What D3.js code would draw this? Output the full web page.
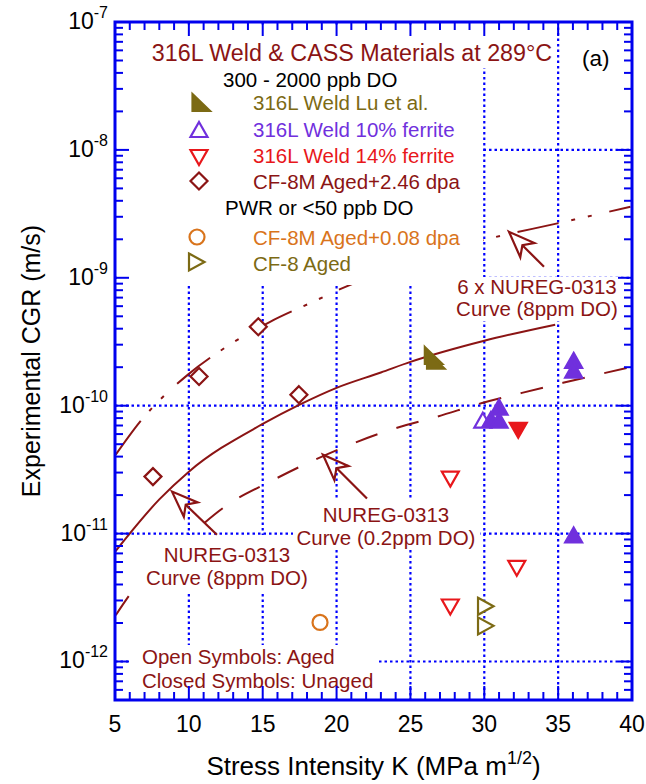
<!DOCTYPE html>
<html>
<head>
<meta charset="utf-8">
<script src="https://cdn.jsdelivr.net/npm/d3@7"></script>
<style>
  html, body { margin: 0; padding: 0; background: #fff; }
  text { font-family: "Liberation Sans", Arial, Helvetica, sans-serif; }
</style>
</head>
<body>
<div id="chart"></div>
<script>
// Curves
const nuregK = [5, 8, 10, 15, 17.5, 20, 23, 25, 30, 34.8];
const nuregV = [7.2e-12, 1.85e-11, 3.05e-11, 7.2e-11, 1.02e-10, 1.38e-10, 1.82e-10, 2.2e-10, 3.22e-10, 4.3e-10];
const lowDoK = [5.05, 6, 10.3, 12.65, 15.5, 18.4, 21.25, 24.1, 26.8, 29.85, 32.55, 35.33, 39.7];
const lowDoV = [2.3e-12, 3.33e-12, 1.02e-11, 1.69e-11, 2.55e-11, 3.72e-11, 5.14e-11, 6.73e-11, 8.2e-11, 1.05e-10, 1.26e-10, 1.51e-10, 1.98e-10];
const sixK = [5.05, 6.7, 9.94, 12.24, 15.5, 18.4, 20.6, 25, 30, 34.8, 39.9];
const sixV = [4.14e-11, 7.5e-11, 1.75e-10, 2.74e-10, 4.53e-10, 6.49e-10, 8.5e-10, 1.33e-9, 1.98e-9, 2.64e-9, 3.59e-9];

// Data points
const luK = [26.55, 26.7];
const luV = [2.45e-10, 2.25e-10];
const f10OpenK = [29.9];
const f10OpenV = [7.5e-11];
const f10FillK = [30.45, 31.0, 31.0, 36.05, 36.05, 36.05];
const f10FillV = [7.6e-11, 9.5e-11, 7.5e-11, 2.2e-10, 1.85e-10, 9.5e-12];
const f14OpenK = [27.7, 32.2, 27.7];
const f14OpenV = [2.74e-11, 5.5e-12, 2.74e-12];
const f14FillK = [32.3];
const f14FillV = [6.6e-11];
const cf8mHighK = [7.57, 10.69, 14.7, 17.45];
const cf8mHighV = [2.79e-11, 1.69e-10, 4.14e-10, 1.22e-10];
const cf8mLowK = [18.88];
const cf8mLowV = [2.02e-12];
const cf8K = [30.05, 30.05];
const cf8V = [2.7e-12, 1.9e-12];

// Arrows: [tailK, tailV, tipK, tipV]
const arrows = [
  [34.04, 1.22e-9, 31.67, 2.29e-9],
  [22.06, 1.88e-11, 19.08, 4.14e-11],
  [11.9, 9.8e-12, 8.86, 2.13e-11]
];

const xTicks = [5, 10, 15, 20, 25, 30, 35, 40];
const yDecades = [-12, -11, -10, -9, -8, -7];

const darkRed = "#8B1414";
const olive = "#7C6A14";
const purple = "#7030DD";
const red = "#E8171B";
const orange = "#D9741C";
const blue = "#0000EE";

const W = 646, H = 784;
const margin = { top: 22, right: 14, bottom: 84, left: 115 };

const svg = d3.select("#chart").append("svg")
  .attr("width", W).attr("height", H);

const x = d3.scaleLinear().domain([5, 40]).range([margin.left, W - margin.right]);
const y = d3.scaleLog().domain([5e-13, 1e-7]).range([H - margin.bottom, margin.top]);
const x0 = margin.left, x1 = W - margin.right, y0 = H - margin.bottom, y1 = margin.top;

// grid
const grid = svg.append("g").attr("stroke", "#0000FF").attr("stroke-width", 2.2)
  .attr("stroke-dasharray", "2.5,3");
grid.selectAll("line.v").data(xTicks.slice(1, -1)).enter().append("line")
  .attr("x1", d => x(d)).attr("x2", d => x(d)).attr("y1", y1).attr("y2", y0);
grid.selectAll("line.h").data(yDecades.slice(0, -1)).enter().append("line")
  .attr("y1", d => y(Math.pow(10, d))).attr("y2", d => y(Math.pow(10, d)))
  .attr("x1", x0).attr("x2", x1);

// curves
const line = d3.line().x(d => x(d[0])).y(d => y(d[1])).curve(d3.curveMonotoneX);
const curves = svg.append("g").attr("fill", "none").attr("stroke", darkRed).attr("stroke-width", 2);
curves.append("path").attr("d", line(d3.zip(nuregK, nuregV)));
curves.append("path").attr("d", line(d3.zip(lowDoK, lowDoV))).attr("stroke-dasharray", "23,20");
curves.append("path").attr("d", line(d3.zip(sixK, sixV))).attr("stroke-dasharray", "42,13,4,13,4,18");

// white boxes behind text
const boxes = [
  [x0 + 2, 25, 440, 43],
  [x0 + 2, 67, 366, 218],
  [452, 277, 173, 44],
  [293, 500, 187, 50],
  [140, 535, 172, 57],
  [128, 645, 250, 52]
];
svg.append("g").selectAll("rect").data(boxes).enter().append("rect")
  .attr("x", d => d[0]).attr("y", d => d[1]).attr("width", d => d[2]).attr("height", d => d[3])
  .attr("fill", "#fff");

// texts
function label(tx, ty, str, color, size, anchor) {
  return svg.append("text").attr("x", tx).attr("y", ty).attr("fill", color)
    .attr("font-size", size).attr("text-anchor", anchor || "start").text(str);
}
label(352, 61, "316L Weld & CASS Materials at 289°C", darkRed, 23.3, "middle");
label(582, 66, "(a)", "#000", 22.5);
label(223, 87, "300 - 2000 ppb DO", "#000", 20.5);
label(253, 110, "316L Weld Lu et al.", olive, 20.5);
label(253, 137, "316L Weld 10% ferrite", purple, 20.5);
label(253, 163, "316L Weld 14% ferrite", red, 20.5);
label(253, 189, "CF-8M Aged+2.46 dpa", darkRed, 20.5);
label(225, 215, "PWR or <50 ppb DO", "#000", 20.5);
label(253, 245, "CF-8M Aged+0.08 dpa", orange, 20.5);
label(253, 271, "CF-8 Aged", olive, 20.5);

label(537, 294, "6 x NUREG-0313", darkRed, 20.5, "middle");
label(537, 316, "Curve (8ppm DO)", darkRed, 20.5, "middle");
label(386, 522, "NUREG-0313", darkRed, 20.5, "middle");
label(386, 545, "Curve (0.2ppm DO)", darkRed, 20.5, "middle");
label(227, 562, "NUREG-0313", darkRed, 20.5, "middle");
label(227, 585, "Curve (8ppm DO)", darkRed, 20.5, "middle");
label(142, 664, "Open Symbols: Aged", darkRed, 20.5);
label(142, 688, "Closed Symbols: Unaged", darkRed, 20.5);

// arrows (hollow head + shaft)
const ag = svg.append("g").attr("fill", "none").attr("stroke", darkRed).attr("stroke-width", 2.2)
  .attr("stroke-linejoin", "miter");
arrows.forEach(a => {
  const tx = x(a[0]), ty = y(a[1]), px = x(a[2]), py = y(a[3]);
  const dx = tx - px, dy = ty - py, len = Math.hypot(dx, dy);
  const ux = dx / len, uy = dy / len, nx = -uy, ny = ux;
  const hl = 26, hw = 10, nl = 19;
  const b1 = [px + ux * hl + nx * hw, py + uy * hl + ny * hw];
  const b2 = [px + ux * hl - nx * hw, py + uy * hl - ny * hw];
  const n = [px + ux * nl, py + uy * nl];
  ag.append("path").attr("d", `M${px},${py}L${b1}L${n}L${b2}Z`);
  ag.append("line").attr("x1", n[0]).attr("y1", n[1]).attr("x2", tx).attr("y2", ty);
});

// symbols
const shapes = {
  up: "M0,-9L8.5,6L-8.5,6Z",
  down: "M0,9L8.5,-6L-8.5,-6Z",
  right: "M-7,-8.5L8.5,0L-7,8.5Z",
  diamond: "M0,-8.5L8.5,0L0,8.5L-8.5,0Z",
  lu: "M-8.5,-9L9,8L-8.5,8Z"
};
function drawPoints(ks, vs, shape, color, filled) {
  const g = svg.append("g");
  const pts = d3.zip(ks, vs);
  const sel = shape === "circle"
    ? g.selectAll("circle").data(pts).enter().append("circle").attr("r", 7.5)
        .attr("cx", d => x(d[0])).attr("cy", d => y(d[1]))
    : g.selectAll("path").data(pts).enter().append("path").attr("d", shapes[shape])
        .attr("transform", d => `translate(${x(d[0])},${y(d[1])})`);
  sel.attr("fill", filled ? color : "#fff").attr("stroke", color).attr("stroke-width", 2.2);
}
drawPoints(cf8mHighK, cf8mHighV, "diamond", darkRed, false);
drawPoints(cf8mLowK, cf8mLowV, "circle", orange, false);
drawPoints(cf8K, cf8V, "right", olive, false);
drawPoints(f14OpenK, f14OpenV, "down", red, false);
drawPoints(f14FillK, f14FillV, "down", red, true);
drawPoints(f10OpenK, f10OpenV, "up", purple, false);
drawPoints(f10FillK, f10FillV, "up", purple, true);
drawPoints(luK, luV, "lu", olive, true);

// legend symbols
const legendSyms = [
  ["lu", olive, true, 201, 103],
  ["up", purple, false, 199, 131],
  ["down", red, false, 199, 156],
  ["diamond", darkRed, false, 199, 181],
  ["circle", orange, false, 197, 237],
  ["right", olive, false, 196, 262]
];
legendSyms.forEach(s => {
  const el = s[0] === "circle"
    ? svg.append("circle").attr("cx", s[3]).attr("cy", s[4]).attr("r", 7.5)
    : svg.append("path").attr("d", shapes[s[0]]).attr("transform", `translate(${s[3]},${s[4]})`);
  el.attr("fill", s[2] ? s[1] : "#fff").attr("stroke", s[1]).attr("stroke-width", 2.2);
});

// axes frame and ticks
const ax = svg.append("g").attr("stroke", blue);
const xMinor = d3.range(6, 40).filter(k => k % 5 !== 0);
const xMajor = xTicks.slice(1, -1);
[[xMinor, 8], [xMajor, 14]].forEach(([ticks, L]) => {
  ax.selectAll(null).data(ticks).enter().append("line").attr("stroke-width", 2)
    .attr("x1", d => x(d)).attr("x2", d => x(d)).attr("y1", y0).attr("y2", y0 - L);
  ax.selectAll(null).data(ticks).enter().append("line").attr("stroke-width", 2)
    .attr("x1", d => x(d)).attr("x2", d => x(d)).attr("y1", y1).attr("y2", y1 + L);
});
const yMinor = [];
for (let e = -13; e < -7; e++) for (let m = 2; m <= 9; m++) {
  const v = m * Math.pow(10, e);
  if (v > 5e-13 && v < 1e-7) yMinor.push(v);
}
const yMajor = yDecades.slice(0, -1).map(e => Math.pow(10, e));
[[yMinor, 8], [yMajor, 14]].forEach(([ticks, L]) => {
  ax.selectAll(null).data(ticks).enter().append("line").attr("stroke-width", 2)
    .attr("y1", d => y(d)).attr("y2", d => y(d)).attr("x1", x0).attr("x2", x0 + L);
  ax.selectAll(null).data(ticks).enter().append("line").attr("stroke-width", 2)
    .attr("y1", d => y(d)).attr("y2", d => y(d)).attr("x1", x1).attr("x2", x1 - L);
});
ax.append("rect").attr("x", x0).attr("y", y1).attr("width", x1 - x0).attr("height", y0 - y1)
  .attr("fill", "none").attr("stroke-width", 3);

// tick labels
svg.append("g").selectAll("text").data(xTicks).enter().append("text")
  .attr("x", d => x(d)).attr("y", 732).attr("text-anchor", "middle")
  .attr("font-size", 23).attr("fill", "#000").text(d => d);
const yl = svg.append("g").selectAll("text").data(yDecades).enter().append("text")
  .attr("x", 108).attr("y", d => y(Math.pow(10, d)) + 7).attr("text-anchor", "end")
  .attr("font-size", 23).attr("fill", "#000");
yl.append("tspan").text("10");
yl.append("tspan").attr("dy", -11).attr("font-size", 16).text(d => `${d}`);

// axis titles
const xt = svg.append("text").attr("x", (x0 + x1) / 2).attr("y", 775).attr("text-anchor", "middle")
  .attr("font-size", 26).attr("fill", "#000");
xt.append("tspan").text("Stress Intensity K (MPa m");
xt.append("tspan").attr("dy", -11).attr("font-size", 18).text("1/2");
xt.append("tspan").attr("dy", 11).text(")");
svg.append("text").attr("transform", `translate(40,${(y0 + y1) / 2}) rotate(-90)`)
  .attr("text-anchor", "middle").attr("font-size", 25).attr("fill", "#000")
  .text("Experimental CGR (m/s)");
</script>
</body>
</html>
